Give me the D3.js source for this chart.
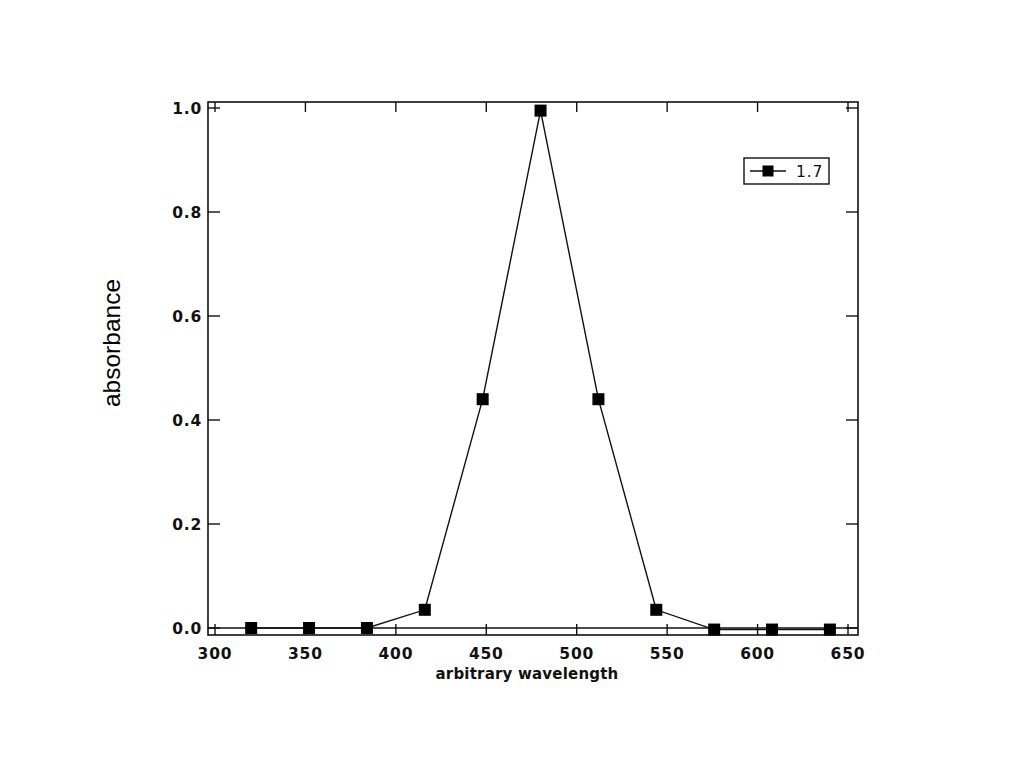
<!DOCTYPE html>
<html>
<head>
<meta charset="utf-8">
<script src="https://cdn.jsdelivr.net/npm/d3@7"></script>
<style>
  html, body { margin: 0; padding: 0; background: #fff; }
  svg { display: block; }
</style>
</head>
<body>
<svg id="chart" width="1024" height="768"></svg>
<script>
// Data
const wavelengths = [320, 352, 384, 416, 448, 480, 512, 544, 576, 608, 640];
const absorbance  = [0.0, 0.0, 0.0, 0.035, 0.44, 0.995, 0.44, 0.035, -0.003, -0.003, -0.003];
const xTicks = [300, 350, 400, 450, 500, 550, 600, 650];
const yTicks = [0.0, 0.2, 0.4, 0.6, 0.8, 1.0];
const yTickLabels = ["0.0", "0.2", "0.4", "0.6", "0.8", "1.0"];
const seriesName = "1.7";
const xTitle = "arbitrary wavelength";
const yTitle = "absorbance";

const svg = d3.select("#chart");
const frame = { left: 208, right: 858, top: 102, bottom: 635 };

const x = d3.scaleLinear().domain([300, 650]).range([215, 848]);
const y = d3.scaleLinear().domain([0, 1]).range([628, 108]);

const ink = "#111";
const tickFont = "'DejaVu Sans', sans-serif";

// frame
svg.append("rect")
  .attr("x", frame.left).attr("y", frame.top)
  .attr("width", frame.right - frame.left).attr("height", frame.bottom - frame.top)
  .attr("fill", "none").attr("stroke", ink).attr("stroke-width", 1.6);

// zero line
svg.append("line")
  .attr("x1", frame.left).attr("x2", frame.right)
  .attr("y1", y(0)).attr("y2", y(0))
  .attr("stroke", ink).attr("stroke-width", 1.4);

// bottom ticks (inward, up from frame bottom)
svg.append("g").selectAll("line").data(xTicks).join("line")
  .attr("x1", d => x(d)).attr("x2", d => x(d))
  .attr("y1", frame.bottom).attr("y2", frame.bottom - 11)
  .attr("stroke", ink).attr("stroke-width", 1.4);
// top ticks
svg.append("g").selectAll("line").data(xTicks).join("line")
  .attr("x1", d => x(d)).attr("x2", d => x(d))
  .attr("y1", frame.top).attr("y2", frame.top + 10)
  .attr("stroke", ink).attr("stroke-width", 1.4);
// left ticks
svg.append("g").selectAll("line").data(yTicks).join("line")
  .attr("x1", frame.left).attr("x2", frame.left + 12)
  .attr("y1", d => y(d)).attr("y2", d => y(d))
  .attr("stroke", ink).attr("stroke-width", 1.4);
// right ticks
svg.append("g").selectAll("line").data(yTicks).join("line")
  .attr("x1", frame.right).attr("x2", frame.right - 12)
  .attr("y1", d => y(d)).attr("y2", d => y(d))
  .attr("stroke", ink).attr("stroke-width", 1.4);

// x tick labels
svg.append("g").selectAll("text").data(xTicks).join("text")
  .attr("x", d => x(d)).attr("y", 659)
  .attr("text-anchor", "middle")
  .attr("font-family", tickFont).attr("font-weight", "bold")
  .attr("font-size", 15.5).attr("letter-spacing", 0.8).attr("fill", ink)
  .text(d => d);

// y tick labels
svg.append("g").selectAll("text").data(yTicks).join("text")
  .attr("x", 202).attr("y", d => y(d) + 5.5)
  .attr("text-anchor", "end")
  .attr("font-family", tickFont).attr("font-weight", "bold")
  .attr("font-size", 15.5).attr("letter-spacing", 0.8).attr("fill", ink)
  .text((d, i) => yTickLabels[i]);

// axis titles
svg.append("text")
  .attr("x", 527).attr("y", 679)
  .attr("text-anchor", "middle")
  .attr("font-family", tickFont).attr("font-weight", "bold")
  .attr("font-size", 15).attr("letter-spacing", 0.2).attr("fill", ink)
  .text(xTitle);

svg.append("text")
  .attr("transform", "translate(120,343) rotate(-90)")
  .attr("text-anchor", "middle")
  .attr("font-family", "'Liberation Sans', Arial, sans-serif")
  .attr("font-size", 24.5).attr("fill", "#000")
  .text(yTitle);

// series
const pts = wavelengths.map((w, i) => [w, absorbance[i]]);
svg.append("path")
  .datum(pts)
  .attr("d", d3.line().x(d => x(d[0])).y(d => y(d[1])))
  .attr("fill", "none").attr("stroke", ink).attr("stroke-width", 1.4);

const ms = 12;
svg.append("g").selectAll("rect").data(pts).join("rect")
  .attr("x", d => x(d[0]) - ms / 2).attr("y", d => y(d[1]) - ms / 2)
  .attr("width", ms).attr("height", ms)
  .attr("fill", "#000");

// legend
const lg = svg.append("g").attr("transform", "translate(744,158)");
lg.append("rect").attr("width", 85).attr("height", 26)
  .attr("fill", "#fff").attr("stroke", ink).attr("stroke-width", 1.4);
lg.append("line").attr("x1", 6).attr("x2", 42).attr("y1", 13).attr("y2", 13)
  .attr("stroke", ink).attr("stroke-width", 1.4);
lg.append("rect").attr("x", 24 - 5.5).attr("y", 13 - 5.5).attr("width", 11).attr("height", 11).attr("fill", "#000");
lg.append("text").attr("x", 52).attr("y", 19)
  .attr("font-family", "'DejaVu Sans', sans-serif").attr("font-size", 15.5)
  .attr("letter-spacing", 0.8).attr("fill", ink)
  .text(seriesName);
</script>
</body>
</html>
